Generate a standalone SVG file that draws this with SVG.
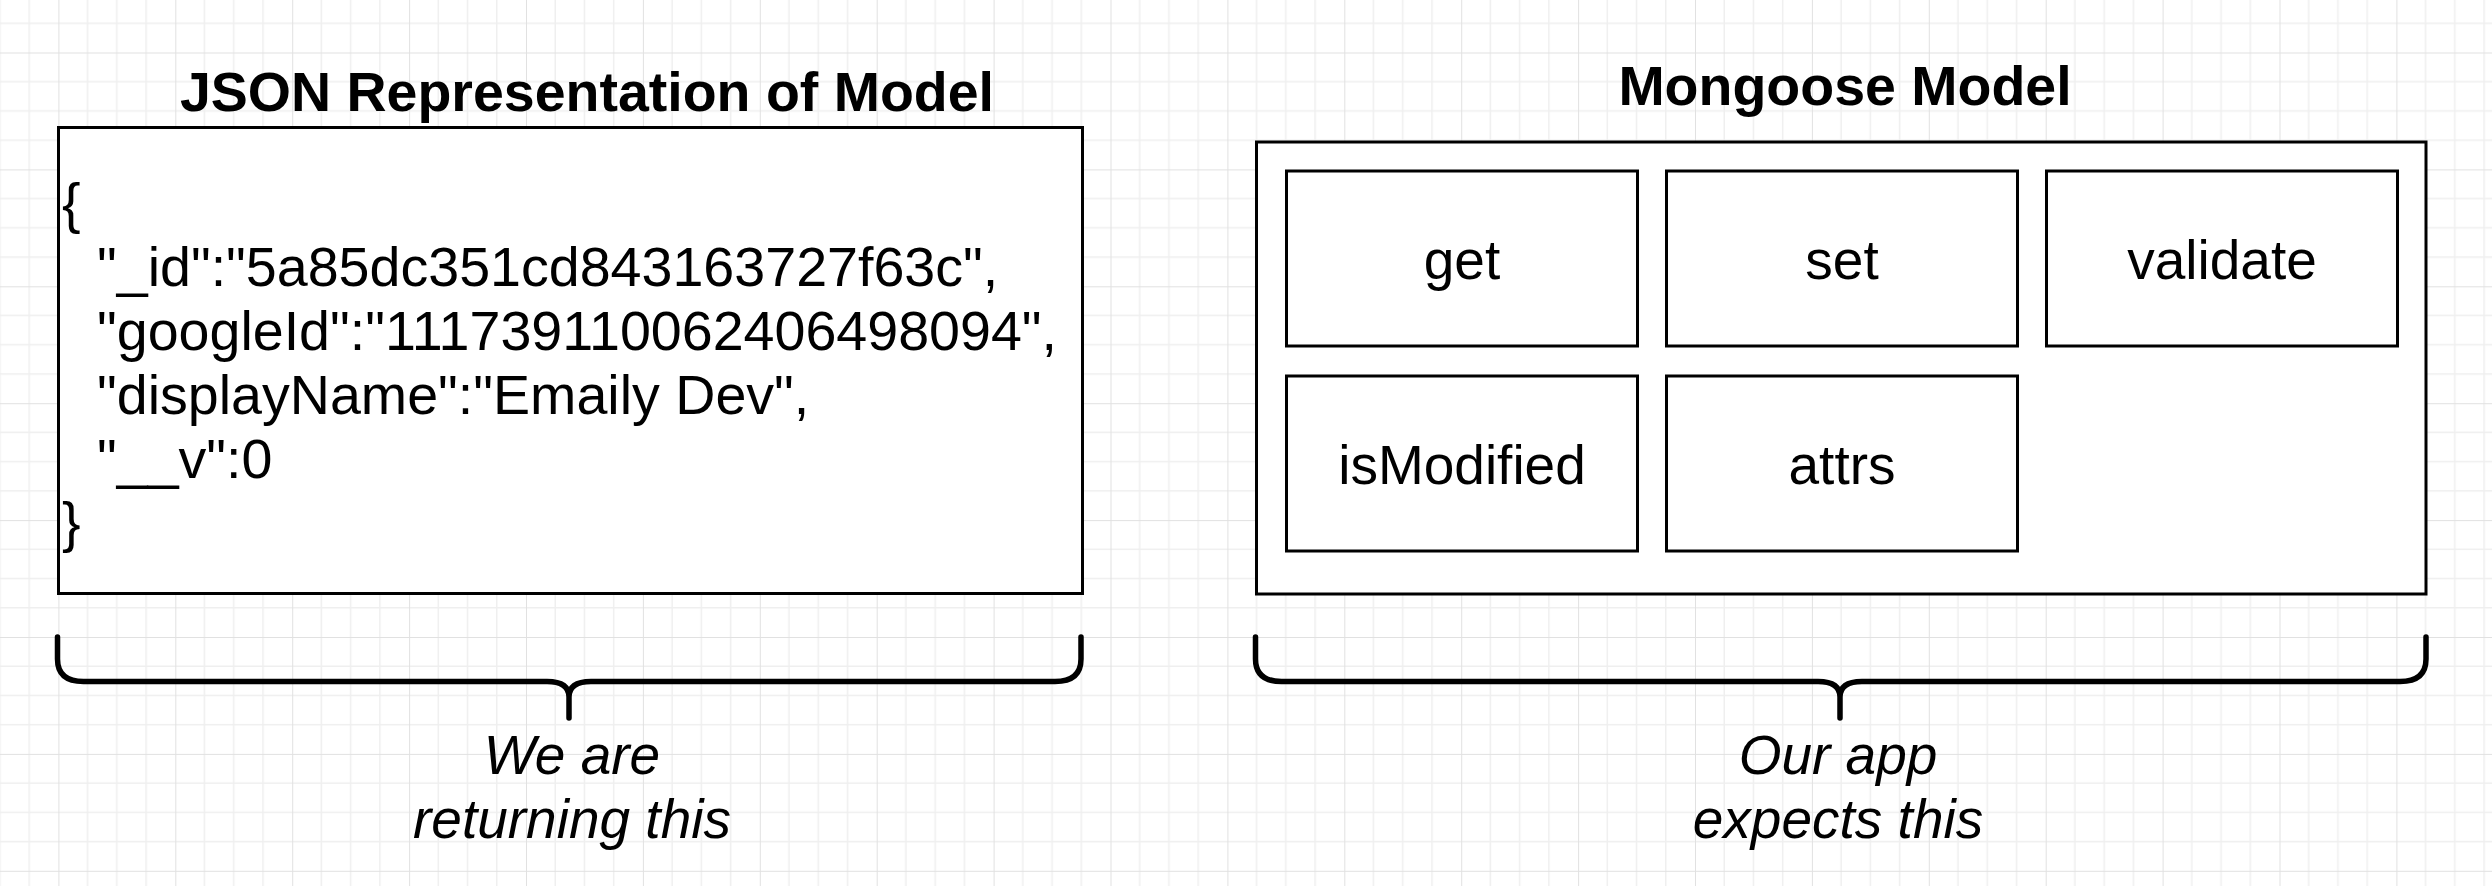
<svg xmlns="http://www.w3.org/2000/svg" width="2492" height="886" viewBox="0 0 2492 886">
<style>
text{font-family:"Liberation Sans",Arial,Helvetica,sans-serif;fill:#000;font-size:55px}
.title{font-weight:bold;text-anchor:middle;font-size:55.5px}
.code{font-size:55.6px}
.lbl{text-anchor:middle}
.cap{font-style:italic;text-anchor:middle}
.box{fill:#fff;stroke:#000;stroke-width:3}
.brace{fill:none;stroke:#000;stroke-width:5.5;stroke-linecap:round;stroke-linejoin:round}
</style>
<defs>
<pattern id="grid" patternUnits="userSpaceOnUse" x="58.4" y="52.5" width="116.9" height="116.9">
<path d="M29.225 0V116.9M58.45 0V116.9M87.675 0V116.9M0 29.225H116.9M0 58.45H116.9M0 87.675H116.9" stroke="#efefef" stroke-width="1.5" fill="none"/>
<path d="M0 0V116.9M0 0H116.9" stroke="#e1e1e1" stroke-width="2" fill="none"/>
</pattern>
</defs>
<rect width="2492" height="886" fill="#fff"/>
<rect width="2492" height="886" fill="url(#grid)"/>

<g id="json-model">
<text class="title" x="587" y="111">JSON Representation of Model</text>
<rect class="box" x="58.5" y="127.5" width="1024" height="466"/>
<text class="code" x="62" y="221.5">{</text>
<text class="code" x="97" y="286">"_id":"5a85dc351cd843163727f63c",</text>
<text class="code" x="97" y="350">"googleId":"111739110062406498094",</text>
<text class="code" x="97" y="414">"displayName":"Emaily Dev",</text>
<text class="code" x="97" y="477.5">"__v":0</text>
<text class="code" x="62" y="541">}</text>
</g>

<g id="mongoose-model">
<text class="title" x="1845" y="105">Mongoose Model</text>
<rect class="box" x="1256.5" y="142" width="1169.5" height="452"/>
</g>
<g id="get">
<rect class="box" x="1286.5" y="171" width="351" height="175"/>
<text class="lbl" x="1462" y="279">get</text>
</g>
<g id="set">
<rect class="box" x="1666.5" y="171" width="351" height="175"/>
<text class="lbl" x="1842" y="279">set</text>
</g>
<g id="validate">
<rect class="box" x="2046.5" y="171" width="351" height="175"/>
<text class="lbl" x="2222" y="279">validate</text>
</g>
<g id="isModified">
<rect class="box" x="1286.5" y="376" width="351" height="175"/>
<text class="lbl" x="1462" y="484">isModified</text>
</g>
<g id="attrs">
<rect class="box" x="1666.5" y="376" width="351" height="175"/>
<text class="lbl" x="1842" y="484">attrs</text>
</g>

<g id="connectors">
<path class="brace" d="M57.5 637V659Q57.5 681.5 83.5 681.5H547Q569 681.5 569 697Q569 681.5 591 681.5H1055Q1081 681.5 1081 659V637M569 697V718"/>
<path class="brace" d="M1255.5 637V659Q1255.5 681.5 1281.5 681.5H1818Q1840 681.5 1840 697Q1840 681.5 1862 681.5H2400Q2426 681.5 2426 659V637M1840 697V718"/>
</g>

<g id="caption-left">
<text class="cap" x="572" y="774">We are</text>
<text class="cap" x="572" y="837.5">returning this</text>
</g>
<g id="caption-right">
<text class="cap" x="1838" y="774">Our app</text>
<text class="cap" x="1838" y="837.5">expects this</text>
</g>
</svg>
